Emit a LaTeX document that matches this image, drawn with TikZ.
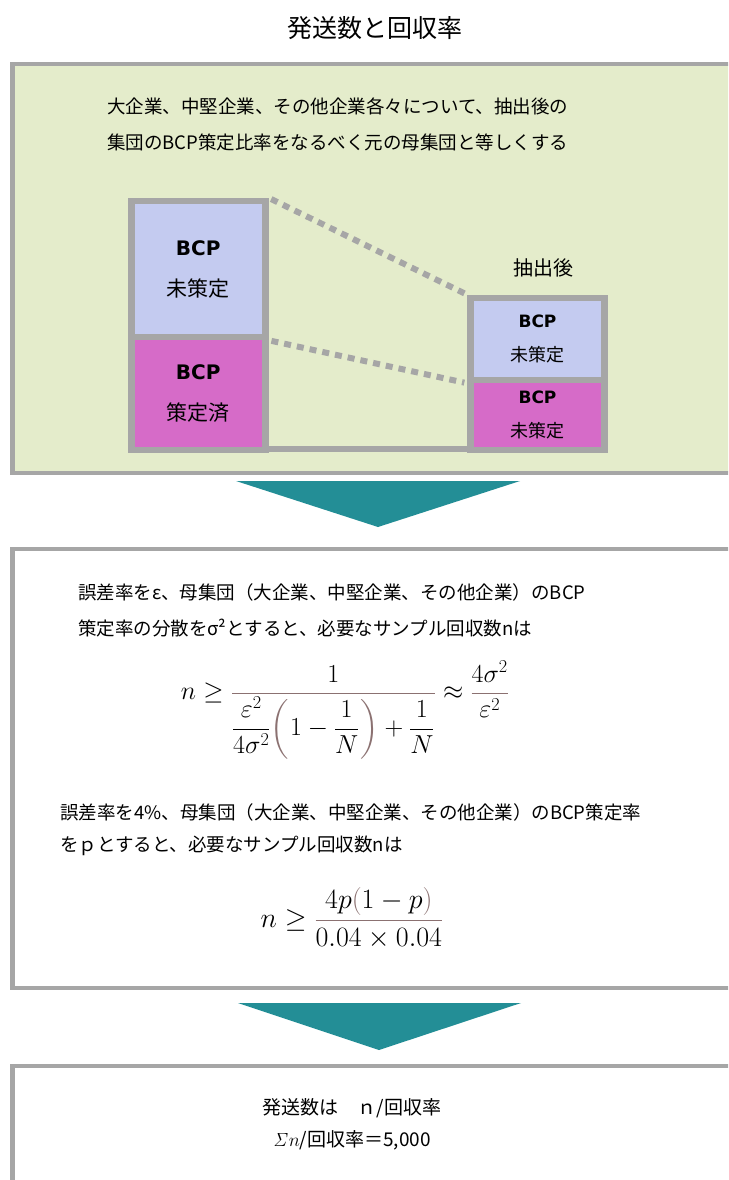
\RequirePackage{fix-cm}
\documentclass[tikz,border=0pt]{standalone}
\usepackage{amsmath}
\usepackage[no-math]{fontspec}
\setmainfont{Noto Sans CJK JP}
\newfontfamily\bcpfont{DejaVu Sans}
\definecolor{bdr}{HTML}{A6A6A6}
\definecolor{grn}{HTML}{E4ECCB}
\definecolor{lblu}{HTML}{C4CBF0}
\definecolor{pnk}{HTML}{D66BC8}
\definecolor{tealx}{HTML}{238E96}
\definecolor{brn}{HTML}{8B7171}
\begin{document}
\begin{tikzpicture}[x=1pt,y=-1pt,
  panel/.style={draw=bdr,line width=4.5pt},
  cell/.style={draw=bdr,line width=6.5pt,inner sep=0pt,minimum width=134pt,align=center},
  bigcell/.style={cell,font=\fontsize{21}{41}\selectfont},
  smallcell/.style={cell,font=\fontsize{18}{34}\selectfont},
  body/.style={anchor=west,inner sep=0pt,font=\fontsize{18.5}{22}\selectfont},
  centertext/.style={inner sep=0pt,font=\fontsize{19}{22}\selectfont},
  mathtext/.style={inner sep=0pt},
  link/.style={draw=bdr,line width=6pt,dash pattern=on 7pt off 6pt,shorten <=3pt,shorten >=3pt},
  solidlink/.style={draw=bdr,line width=6pt},
  downarrow/.style={fill=tealx}
]
\useasboundingbox (0,0) rectangle (728,1180);
\clip (0,0) rectangle (728,1180);
\fill[white] (0,0) rectangle (728,1180);

\node[inner sep=0pt,font=\fontsize{25}{30}\selectfont] (title) at (375,28) {発送数と回収率};

% panel 1
\draw[panel,fill=grn] (12.5,64) rectangle (745,473);
\node[body] (t1) at (107,106) {大企業、中堅企業、その他企業各々について、抽出後の};
\node[body] (t2) at (107,142) {集団のBCP策定比率をなるべく元の母集団と等しくする};

\node[inner sep=0pt,font=\fontsize{20}{24}\selectfont] (after) at (543,268) {抽出後};

\node[bigcell,fill=lblu,minimum height=136pt] (lu) at (198.25,269) {{\bcpfont\bfseries\fontsize{20}{41}\selectfont BCP}\\未策定};
\node[bigcell,fill=pnk,minimum height=113pt] (lp) at (198.25,393.5) {{\bcpfont\bfseries\fontsize{20}{41}\selectfont BCP}\\策定済};
\node[smallcell,fill=lblu,minimum height=82pt] (ru) at (537.5,339) {{\bcpfont\bfseries\fontsize{17}{34}\selectfont BCP}\\未策定};
\node[smallcell,fill=pnk,minimum height=70pt] (rp) at (537.5,415) {{\bcpfont\bfseries\fontsize{17}{34}\selectfont BCP}\\未策定};

\draw[link] (lu.north east) -- (ru.north west);
\draw[link] (lu.south east) -- (ru.south west);
\draw[solidlink] ([yshift=4pt]lp.south east) -- ([yshift=4pt]rp.south west);

% arrow 1
\fill[downarrow] (236,481) -- (520,481) -- (378,527) -- cycle;

% panel 2
\draw[panel,fill=white] (12.5,549) rectangle (745,988);
\node[body] (t3) at (78,592) {誤差率をε、母集団（大企業、中堅企業、その他企業）のBCP};
\node[body] (t4) at (78,628) {策定率の分散をσ²とすると、必要なサンプル回収数nは};
\node[mathtext,font=\fontsize{26}{30}\selectfont] (f1) at (345,710) {$\displaystyle n \ge {\color{brn}\frac{\color{black}1}{\color{black}\dfrac{\varepsilon^2}{4\sigma^2}\mathopen{\color{brn}\left(\vphantom{\dfrac{\varepsilon^2}{4\sigma^2}}\right.}1-\dfrac{1}{N}\mathclose{\color{brn}\left.\vphantom{\dfrac{\varepsilon^2}{4\sigma^2}}\right)}+\dfrac{1}{N}}}\approx{\color{brn}\frac{\color{black}4\sigma^2}{\color{black}\varepsilon^2}}$};
\node[body] (t5) at (60,812) {誤差率を4\%、母集団（大企業、中堅企業、その他企業）のBCP策定率};
\node[body] (t6) at (60,846) {をｐとすると、必要なサンプル回収数nは};
\node[mathtext,font=\fontsize{28}{32}\selectfont] (f2) at (352,918) {$\displaystyle n \ge {\color{brn}\frac{\color{black}4p\mathopen{\color{brn}(}1-p\mathclose{\color{brn})}}{\color{black}0.04\times 0.04}}$};

% arrow 2
\fill[downarrow] (238,1003) -- (521,1003) -- (379,1050) -- cycle;

% panel 3
\draw[panel,fill=white] (12.5,1066) rectangle (745,1220);
\node[centertext] (t7) at (352,1108) {発送数は　ｎ/回収率};
\node[centertext] (t8) at (352,1140) {$\mathit{\Sigma}n$/回収率＝5,000};
\end{tikzpicture}
\end{document}
